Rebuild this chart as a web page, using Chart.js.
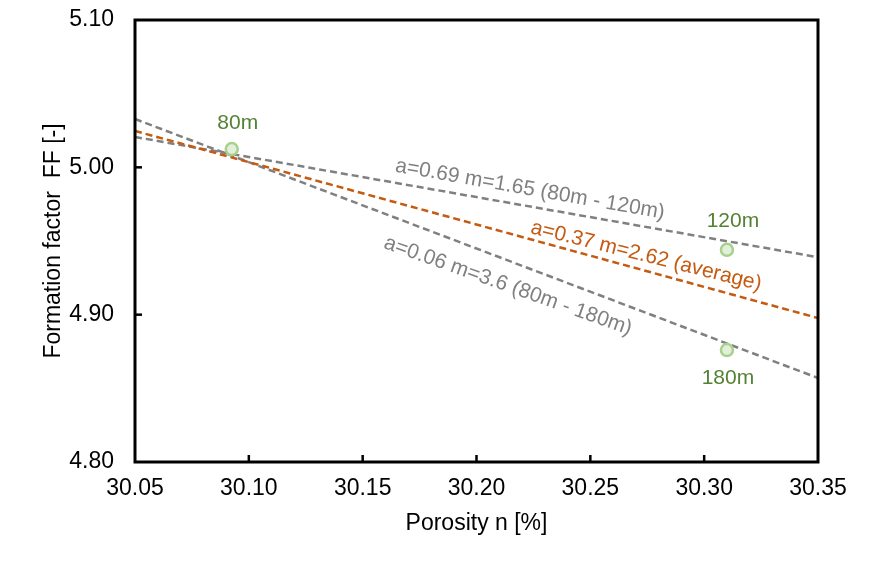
<!DOCTYPE html>
<html lang="en">
<head>
  <meta charset="UTF-8">
  <title>Formation factor vs porosity</title>
  <script src="https://cdn.jsdelivr.net/npm/chart.js"></script>
  <style>
    html, body { margin: 0; padding: 0; background: #ffffff; }
    .chart-wrapper { width: 887px; height: 566px; position: relative; }
  </style>
</head>
<body>
  <div class="chart-wrapper">
    <canvas id="ffChart"></canvas>
  </div>

  <script>
    // measured samples
    const sampleLabels = ['80m', '120m', '180m'];
    const porosity = [30.0925, 30.310, 30.310];
    const formationFactor = [5.0124, 4.944, 4.876];

    // Archie fits, read at both edges of the plot
    const fitPorosity = [30.05, 30.35];
    const fit80to120 = [5.0206, 4.939];
    const fitAverage = [5.0247, 4.8977];
    const fit80to180 = [5.0328, 4.857];

    const fitLabels = ['a=0.69 m=1.65 (80m - 120m)', 'a=0.37 m=2.62 (average)', 'a=0.06 m=3.6 (80m - 180m)'];

    const xTicks = [30.05, 30.10, 30.15, 30.20, 30.25, 30.30, 30.35];
    const yTicks = [4.80, 4.90, 5.00, 5.10];

    const FONT = "'Liberation Sans', Arial, sans-serif";
    const GRAY = '#808080';
    const ORANGE = '#c55a11';
    const GREEN = '#548235';

    // where the rotated fit labels sit (data coords) and their angle
    const fitLabelPlacement = [
      { x: 30.2235, y: 4.985, angle: 10, color: GRAY },
      { x: 30.2745, y: 4.9398, angle: 14, color: ORANGE },
      { x: 30.2138, y: 4.9195, angle: 19.5, color: GRAY }
    ];
    // pixel offsets of the sample labels from their points
    const sampleLabelOffset = [[6, -26], [6, -29], [1, 28]];

    function pairs(xs, ys) {
      return xs.map((x, i) => ({ x: x, y: ys[i] }));
    }

    const decorations = {
      id: 'decorations',
      afterDatasetsDraw(chart) {
        const ctx = chart.ctx;
        const area = chart.chartArea;
        const xs = chart.scales.x;
        const ys = chart.scales.y;
        ctx.save();

        // frame
        ctx.strokeStyle = '#000000';
        ctx.lineWidth = 3;
        ctx.strokeRect(area.left, area.top, area.right - area.left, area.bottom - area.top);

        // inward tick marks
        ctx.lineWidth = 2.5;
        xTicks.slice(1, -1).forEach(v => {
          const px = xs.getPixelForValue(v);
          ctx.beginPath();
          ctx.moveTo(px, area.bottom);
          ctx.lineTo(px, area.bottom - 7);
          ctx.stroke();
        });
        yTicks.slice(1, -1).forEach(v => {
          const py = ys.getPixelForValue(v);
          ctx.beginPath();
          ctx.moveTo(area.left, py);
          ctx.lineTo(area.left + 7, py);
          ctx.stroke();
        });

        // fit labels
        ctx.font = '21px ' + FONT;
        ctx.textAlign = 'center';
        ctx.textBaseline = 'middle';
        fitLabels.forEach((txt, i) => {
          const p = fitLabelPlacement[i];
          ctx.save();
          ctx.translate(xs.getPixelForValue(p.x), ys.getPixelForValue(p.y));
          ctx.rotate(p.angle * Math.PI / 180);
          ctx.fillStyle = p.color;
          ctx.fillText(txt, 0, 0);
          ctx.restore();
        });

        // sample labels
        ctx.fillStyle = GREEN;
        sampleLabels.forEach((txt, i) => {
          const px = xs.getPixelForValue(porosity[i]) + sampleLabelOffset[i][0];
          const py = ys.getPixelForValue(formationFactor[i]) + sampleLabelOffset[i][1];
          ctx.fillText(txt, px, py);
        });
        ctx.restore();
      }
    };

    const dashedLine = (data, color) => ({
      data: data,
      showLine: true,
      borderColor: color,
      borderWidth: 2.5,
      borderDash: [7, 4],
      pointRadius: 0,
      fill: false
    });

    new Chart(document.getElementById('ffChart'), {
      type: 'scatter',
      data: {
        datasets: [
          {
            data: pairs(porosity, formationFactor),
            pointRadius: 6,
            pointBackgroundColor: '#e2efda',
            pointBorderColor: '#a9d18e',
            pointBorderWidth: 2.5
          },
          dashedLine(pairs(fitPorosity, fitAverage), ORANGE),
          dashedLine(pairs(fitPorosity, fit80to120), GRAY),
          dashedLine(pairs(fitPorosity, fit80to180), GRAY)
        ]
      },
      options: {
        responsive: true,
        maintainAspectRatio: false,
        animation: false,
        layout: { padding: { left: 0, top: 20, right: 69, bottom: 0 } },
        plugins: { legend: { display: false }, tooltip: { enabled: false } },
        scales: {
          x: {
            type: 'linear',
            min: 30.05,
            max: 30.35,
            grid: { display: false, drawTicks: false },
            border: { display: false },
            afterBuildTicks: s => { s.ticks = xTicks.map(v => ({ value: v })); },
            afterFit: s => { s.height = 104; },
            ticks: {
              padding: 13,
              color: '#000000',
              font: { family: FONT, size: 23 },
              maxRotation: 0,
              callback: v => v.toFixed(2)
            },
            title: {
              display: true,
              text: 'Porosity n [%]',
              color: '#000000',
              font: { family: FONT, size: 23 },
              padding: { top: 0, bottom: 29 }
            }
          },
          y: {
            type: 'linear',
            min: 4.80,
            max: 5.10,
            // tick length only spaces the labels off the axis; the marks are drawn by the plugin
            grid: { display: false, drawTicks: true, tickLength: 21 },
            border: { display: false },
            afterBuildTicks: s => { s.ticks = yTicks.map(v => ({ value: v })); },
            afterFit: s => { s.width = 135; },
            ticks: {
              padding: 0,
              color: '#000000',
              font: { family: FONT, size: 23 },
              callback: v => v.toFixed(2)
            },
            title: {
              display: true,
              text: 'Formation factor  FF [-]',
              color: '#000000',
              font: { family: FONT, size: 23 },
              padding: { top: 40, bottom: 0 }
            }
          }
        }
      },
      plugins: [decorations]
    });
  </script>
</body>
</html>
